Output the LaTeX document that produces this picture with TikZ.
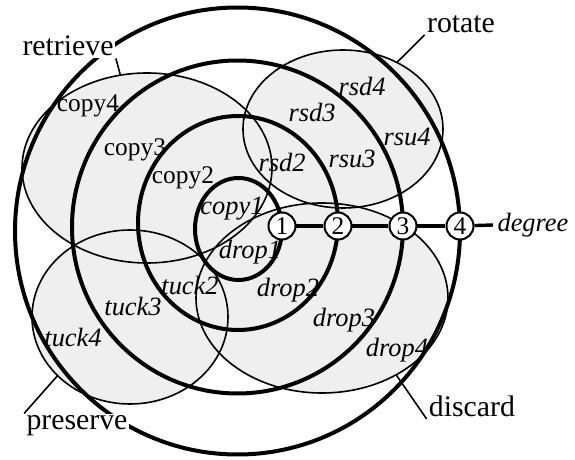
\documentclass[tikz,border=0pt]{standalone}
\usepackage{fontspec}
\setmainfont{Liberation Serif}
\usetikzlibrary{shapes.geometric}
\usepackage{xcolor}
\definecolor{zonegray}{HTML}{EFEFEF}

\begin{document}
\begin{tikzpicture}[
    x=0.5pt, y=-0.5pt,
    font=\fontsize{12.7}{14}\selectfont,
    zonefill/.style={ellipse, fill=zonegray, inner sep=0pt, outer sep=0pt},
    zoneline/.style={ellipse, draw, line width=0.8pt, inner sep=0pt, outer sep=0pt},
    ring/.style={ellipse, draw, line width=2pt, inner sep=0pt, outer sep=0pt},
    degmark/.style={circle, draw, fill=white, line width=1pt, minimum size=13.5pt, inner sep=0pt},
    opname/.style={fill=white, inner sep=1pt, font=\fontsize{14.9}{16}\selectfont},
    op/.style={inner sep=0pt},
    opi/.style={inner sep=0pt, font=\fontsize{13.2}{14}\selectfont\itshape},
    leader/.style={line width=0.8pt}
  ]
    \useasboundingbox (0,0) rectangle (575,460);

    % ---- shaded operation zones ----
    \node[zonefill, minimum width=125pt, minimum height=95pt] at (147,168) {};
    \node[zonefill, minimum width=100pt, minimum height=79pt] at (343,129) {};
    \node[zonefill, minimum width=126pt, minimum height=95pt] at (322,298) {};
    \node[zonefill, minimum width=98pt, minimum height=87pt] at (130,317) {};

    \node[zoneline, minimum width=125pt, minimum height=95pt] (ecopy) at (147,168) {};
    \node[zoneline, minimum width=100pt, minimum height=79pt] (erot) at (343,129) {};
    \node[zoneline, minimum width=126pt, minimum height=95pt] (edrop) at (322,298) {};
    \node[zoneline, minimum width=98pt, minimum height=87pt] (etuck) at (130,317) {};

    % ---- degree rings ----
    \node[ring, minimum width=43.5pt, minimum height=51pt] (ring1) at (238.5,229) {};
    \node[ring, minimum width=100pt, minimum height=107pt] (ring2) at (238,223) {};
    \node[ring, minimum width=165.5pt, minimum height=166.5pt] (ring3) at (237.5,227) {};
    \node[ring, minimum width=222.5pt, minimum height=223.5pt] (ring4) at (237.5,231) {};

    % ---- zone names ----
    \node[opname] (retrieve) at (68,46) {retrieve};
    \node[opname] (rotate) at (461,24) {rotate};
    \node[opname] (preserve) at (77,426) {preserve};
    \node[opname] (discard) at (472,406) {discard};

    \draw[leader] (retrieve.south east) -- (ecopy.106);
    \draw[leader] (rotate.south west) -- (erot.51);
    \draw[leader] (preserve.north west) -- (etuck.219);
    \draw[leader] (discard.south west) -- (edrop.314);

    % ---- degree axis ----
    \node[degmark] (m1) at (282,226) {1};
    \node[degmark] (m2) at (338,226) {2};
    \node[degmark] (m3) at (403,226) {3};
    \node[degmark] (m4) at (460,226) {4};
    \node[opi, inner sep=2pt] (degree) at (533,225) {degree};

    \draw[line width=1.7pt] (m1) -- (m2);
    \draw[line width=1.7pt] (m2) -- (m3);
    \draw[line width=1.7pt] (m3) -- (m4);
    \draw[line width=1.7pt] (m4) -- (degree.west);

    % ---- operations ----
    \node[op] (copy4) at (88,106) {copy4};
    \node[op] (copy3) at (135,150) {copy3};
    \node[op] (copy2) at (183,178) {copy2};
    \node[opi] (copy1) at (232,209) {copy1};

    \node[opi] (rsd2) at (282,162) {rsd2};
    \node[opi] (rsd3) at (312,112) {rsd3};
    \node[opi] (rsd4) at (362,86) {rsd4};
    \node[opi] (rsu3) at (352,159) {rsu3};
    \node[opi] (rsu4) at (407,137) {rsu4};

    \node[opi] (drop1) at (250,252) {drop1};
    \node[opi] (drop2) at (288,290) {drop2};
    \node[opi] (drop3) at (344,320) {drop3};
    \node[opi] (drop4) at (397,350) {drop4};

    \node[opi] (tuck2) at (190,285) {tuck2};
    \node[opi] (tuck3) at (133,306) {tuck3};
    \node[opi] (tuck4) at (73,337) {tuck4};
\end{tikzpicture}
\end{document}
